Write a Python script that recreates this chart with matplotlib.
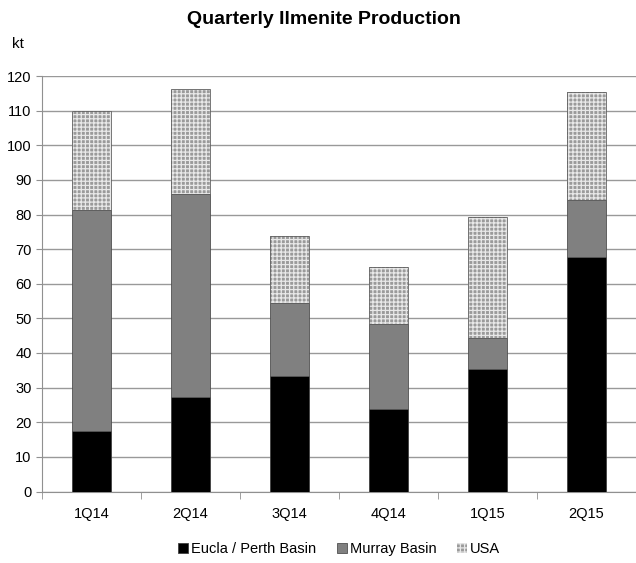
import matplotlib
matplotlib.use("Agg")
import matplotlib.pyplot as plt
import numpy as np

plt.rcParams["font.family"] = ["Liberation Sans", "DejaVu Sans"]
plt.rcParams["hatch.linewidth"] = 0.9

# --- data (kt) ---
quarters = ["1Q14", "2Q14", "3Q14", "4Q14", "1Q15", "2Q15"]
eucla_perth = [17.6, 27.2, 33.5, 23.7, 35.3, 67.8]
murray = [63.7, 58.6, 20.9, 24.6, 8.9, 16.3]
usa = [28.7, 30.4, 19.3, 16.5, 35.1, 31.3]

fig = plt.figure(figsize=(6.36, 5.63), dpi=100)
ax = fig.add_axes([42 / 636, 1 - 491.5 / 563, 594 / 636, 415.5 / 563])

x = np.arange(len(quarters))
w = 0.40
b1 = np.array(eucla_perth)
b2 = b1 + np.array(murray)
ax.bar(x, eucla_perth, w, color="black", edgecolor="#404040", lw=0.6,
       label="Eucla / Perth Basin", zorder=3)
ax.bar(x, murray, w, bottom=b1, color="#808080", edgecolor="#505050", lw=0.6,
       label="Murray Basin", zorder=3)
ax.bar(x, usa, w, bottom=b2, color="#9a9a9a", edgecolor="#e8e8e8", lw=0,
       hatch="++++", label="USA", zorder=3)
ax.bar(x, usa, w, bottom=b2, fill=False, edgecolor="#606060", lw=0.6, zorder=4)

ax.set_xlim(-0.5, len(quarters) - 0.5)
ax.set_ylim(0, 120)
ax.set_yticks(np.arange(0, 121, 10))
ax.set_xticks(x)
ax.set_xticklabels(quarters)
ax.set_xticks(np.arange(-0.5, len(quarters)), minor=True)
ax.tick_params(axis="x", which="major", length=0, pad=11, labelsize=10.5)
ax.tick_params(axis="x", which="minor", length=5, color="#909090")
ax.tick_params(axis="y", length=4, color="#909090", labelsize=10.5)
ax.yaxis.grid(True, color="#999999", lw=1.0, zorder=0)
for s in ["top", "right"]:
    ax.spines[s].set_visible(False)
for s in ["left", "bottom"]:
    ax.spines[s].set_color("#909090")

fig.text(0.51, 1 - 20 / 563, "Quarterly Ilmenite Production", ha="center", va="center",
         fontsize=14, fontweight="bold")
fig.text(12 / 636, 1 - 44 / 563, "kt", ha="left", va="center", fontsize=11)

ax.legend(loc="upper center", bbox_to_anchor=(0.50, -0.09), ncol=3, frameon=False,
          fontsize=10.5, handlelength=0.7, handleheight=0.7, handletextpad=0.2,
          columnspacing=1.4)

fig.savefig("out.png", dpi=100)
